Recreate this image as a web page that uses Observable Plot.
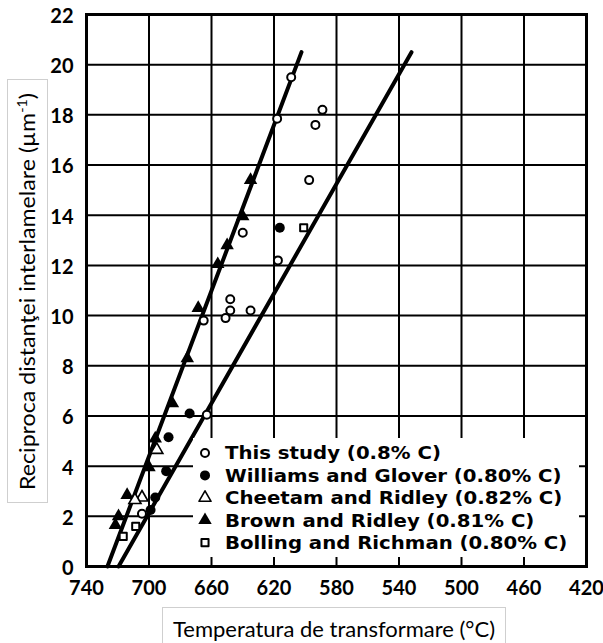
<!DOCTYPE html>
<html><head><meta charset="utf-8">
<script src="https://cdn.jsdelivr.net/npm/d3@7"></script>
<script src="https://cdn.jsdelivr.net/npm/@observablehq/plot@0.6"></script>
<style>
body{margin:0;background:#fff;}
#wrap{position:relative;width:603px;height:643px;overflow:hidden;background:#fff;}
#wrap > svg{position:absolute;left:0;top:0;}
#legend{position:absolute;left:193px;top:438px;width:386px;height:119px;background:#fff;}
</style></head><body><div id="wrap"></div>
<script>
// ---- data ----
const xTicks = [740, 700, 660, 620, 580, 540, 500, 460, 420];
const yTicks = [0, 2, 4, 6, 8, 10, 12, 14, 16, 18, 20, 22];

const line1T = [726.6, 602.4];
const line1Y = [0, 20.5];
const line2T = [719.5, 532];
const line2Y = [0, 20.5];

const thisStudyT = [609, 618, 589, 593.5, 597.5, 640, 617.5, 665, 648, 648, 651, 635, 663, 704.5];
const thisStudyY = [19.5, 17.85, 18.2, 17.6, 15.4, 13.3, 12.2, 9.8, 10.65, 10.2, 9.9, 10.2, 6.05, 2.1];

const williamsT = [616.3, 674, 687.5, 689, 696, 699];
const williamsY = [13.5, 6.1, 5.15, 3.8, 2.75, 2.25];

const cheetamT = [695, 704.5, 709];
const cheetamY = [4.65, 2.75, 2.65];

const brownT = [635, 640, 650, 656, 668.5, 675.5, 685, 696, 700, 714, 719.5, 721.5];
const brownY = [15.4, 13.95, 12.8, 12.05, 10.3, 8.3, 6.5, 5.1, 3.95, 2.85, 2.0, 1.65];

const bollingT = [601, 708.5, 716.5];
const bollingY = [13.5, 1.6, 1.2];

const legendLabels = [
  "This study (0.8% C)",
  "Williams and Glover (0.80% C)",
  "Cheetam and Ridley (0.82% C)",
  "Brown and Ridley (0.81% C)",
  "Bolling and Richman (0.80% C)"
];
const xLabel = "Temperatura de transformare (°C)";
const yLabelMain = "Reciproca distanţei interlamelare (µm";
const yLabelSup = "-1";
const yLabelEnd = ")";

// ---- helpers ----
const zip = (T, Y) => T.map((t, i) => ({T: t, y: Y[i]}));

const chart = Plot.plot({
  width: 603,
  height: 600,
  marginLeft: 86,
  marginRight: 17,
  marginTop: 14,
  marginBottom: 34,
  style: {fontFamily: "Lato, sans-serif", color: "black", background: "white", overflow: "visible"},
  x: {domain: [740, 420]},
  y: {domain: [0, 22]},
  marks: [
    Plot.ruleX(xTicks, {stroke: "black", strokeWidth: 2}),
    Plot.ruleY(yTicks, {stroke: "black", strokeWidth: 2}),
    Plot.frame({stroke: "black", strokeWidth: 3}),
    Plot.line(zip(line1T, line1Y), {x: "T", y: "y", stroke: "black", strokeWidth: 4}),
    Plot.line(zip(line2T, line2Y), {x: "T", y: "y", stroke: "black", strokeWidth: 4}),
    Plot.dot(zip(williamsT, williamsY), {x: "T", y: "y", r: 5, fill: "black"}),
    Plot.dot(zip(brownT, brownY), {x: "T", y: "y", symbol: "triangle", r: 5, fill: "black"}),
    Plot.dot(zip(cheetamT, cheetamY), {x: "T", y: "y", symbol: "triangle", r: 4.5, fill: "white", stroke: "black", strokeWidth: 1.6}),
    Plot.dot(zip(bollingT, bollingY), {x: "T", y: "y", symbol: "square", r: 4, fill: "white", stroke: "black", strokeWidth: 2, strokeLinejoin: "round"}),
    Plot.dot(zip(thisStudyT, thisStudyY), {x: "T", y: "y", r: 4, fill: "white", stroke: "black", strokeWidth: 2}),
    Plot.axisX(xTicks, {tickSize: 0, tickPadding: 14, fontSize: 20, fontWeight: "bold", label: null}),
    Plot.axisY(yTicks, {tickSize: 0, tickPadding: 13, dy: 2, fontSize: 20, fontWeight: "bold", label: null})
  ]
});

const wrap = document.getElementById("wrap");
wrap.appendChild(chart);

// ---- legend (covers the grid, as in the reference) ----
const legendDiv = document.createElement("div");
legendDiv.id = "legend";
wrap.appendChild(legendDiv);
const lsvg = d3.select(legendDiv).append("svg").attr("width", 386).attr("height", 119);
const legendSymbols = [
  {type: d3.symbolCircle, r: 4, fill: "white", stroke: "black", sw: 2},
  {type: d3.symbolCircle, r: 5, fill: "black", stroke: "none", sw: 0},
  {type: d3.symbolTriangle, r: 4.5, fill: "white", stroke: "black", sw: 1.6},
  {type: d3.symbolTriangle, r: 5, fill: "black", stroke: "none", sw: 0},
  {type: d3.symbolSquare, r: 4, fill: "white", stroke: "black", sw: 2}
];
legendLabels.forEach((lab, i) => {
  const cy = 15 + i * 22.4;
  const s = legendSymbols[i];
  lsvg.append("path")
    .attr("d", d3.symbol(s.type, Math.PI * s.r * s.r)())
    .attr("transform", `translate(12,${cy})`)
    .attr("fill", s.fill).attr("stroke", s.stroke).attr("stroke-width", s.sw)
    .attr("stroke-linejoin", "round");
  lsvg.append("text")
    .attr("transform", `translate(32,${cy + 6.3}) scale(1.16,1)`)
    .attr("font-family", "DejaVu Sans")
    .attr("font-weight", "bold")
    .attr("font-size", 17)
    .attr("fill", "black")
    .text(lab);
});

// ---- axis titles in boxes ----
const osvg = d3.select(wrap).append("svg")
  .attr("width", 603).attr("height", 643)
  .style("pointer-events", "none");
// x title
osvg.append("rect").attr("x", 162.5).attr("y", 607.5).attr("width", 343).attr("height", 40)
  .attr("fill", "white").attr("stroke", "#cfcfcf").attr("stroke-width", 1);
osvg.append("text").attr("x", 334).attr("y", 637)
  .attr("text-anchor", "middle")
  .attr("font-family", "Lato").attr("font-size", 22).attr("fill", "black")
  .attr("textLength", 322).attr("lengthAdjust", "spacingAndGlyphs")
  .text(xLabel);
// y title
osvg.append("rect").attr("x", 7.5).attr("y", 79.5).attr("width", 40).attr("height", 423)
  .attr("fill", "white").attr("stroke", "#cfcfcf").attr("stroke-width", 1);
const yt = osvg.append("text")
  .attr("transform", "translate(35,291.5) rotate(-90)")
  .attr("text-anchor", "middle")
  .attr("font-family", "Lato").attr("font-size", 21).attr("fill", "black")
  .attr("textLength", 397).attr("lengthAdjust", "spacingAndGlyphs");
yt.append("tspan").text(yLabelMain);
yt.append("tspan").attr("font-size", 13).attr("dy", -8).text(yLabelSup);
yt.append("tspan").attr("dy", 8).text(yLabelEnd);
</script></body></html>
